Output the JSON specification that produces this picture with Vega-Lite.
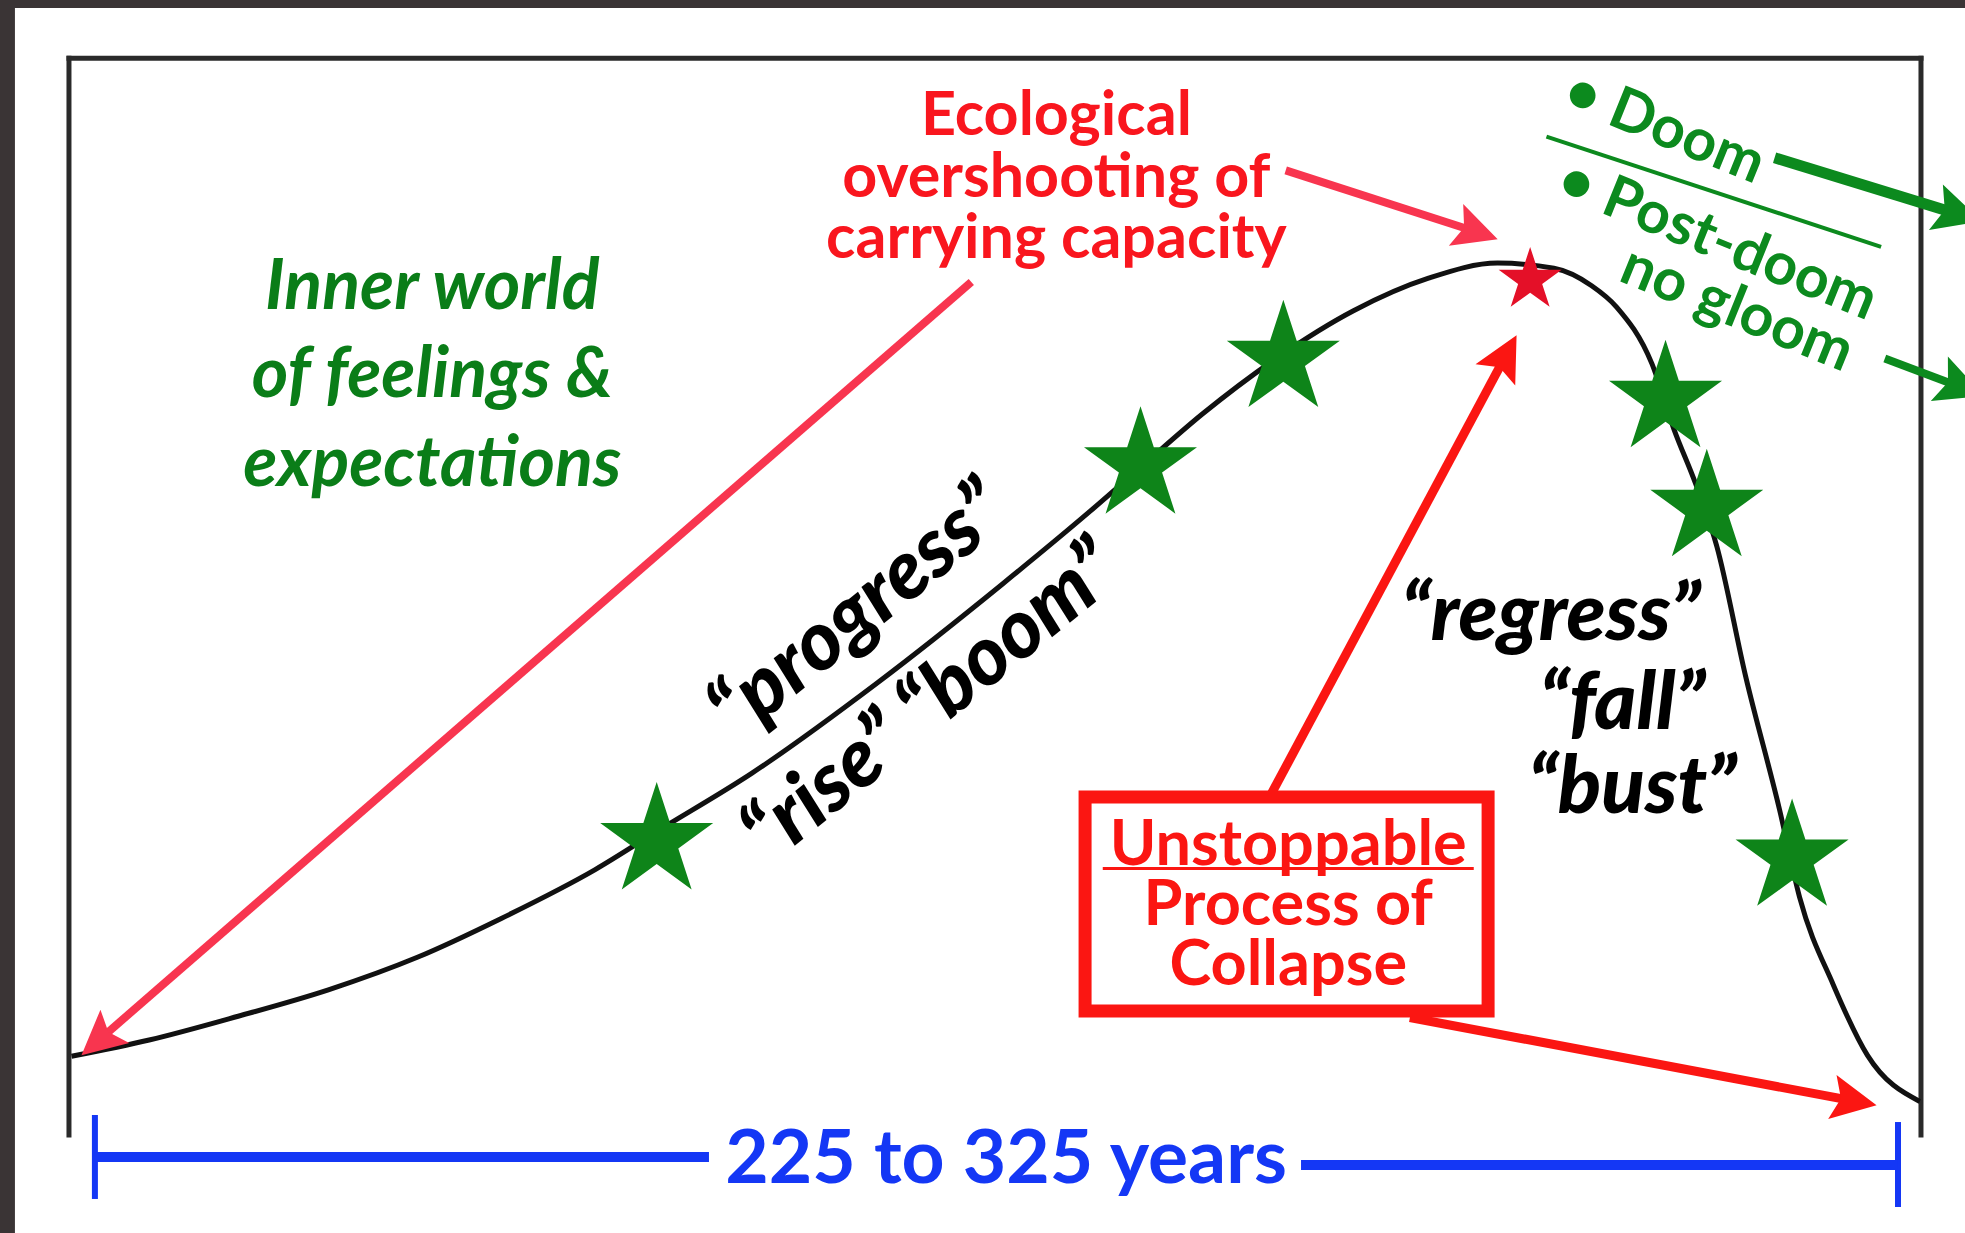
{
  "$schema": "https://vega.github.io/schema/vega-lite/v6.json",
  "width": 1965,
  "height": 1233,
  "autosize": {"type": "none"},
  "padding": 0,
  "background": "#3a3435",
  "config": {"view": {"stroke": null}, "axis": {"disable": true}, "font": "Lato"},
  "datasets": {
    "paper": [{"x": 0.76, "y": 0, "x2": 100, "y2": 99.35}],
    "strokes": [
      {"g": "frame", "x": 3.51, "y": 95.27, "x2": 3.51, "y2": 7.95},
      {"g": "frame", "x": 3.51, "y": 95.27, "x2": 97.76, "y2": 95.27},
      {"g": "frame", "x": 97.76, "y": 95.27, "x2": 97.76, "y2": 7.95},
      {"g": "blueTick", "x": 4.83, "y": 9.57, "x2": 4.83, "y2": 2.76},
      {"g": "blueTick", "x": 96.59, "y": 9.0, "x2": 96.59, "y2": 2.11},
      {"g": "blueBar", "x": 4.83, "y": 6.16, "x2": 36.08, "y2": 6.16},
      {"g": "blueBar", "x": 66.21, "y": 5.52, "x2": 96.59, "y2": 5.52},
      {"g": "divider", "x": 78.7, "y": 88.92, "x2": 95.73, "y2": 79.98},
      {"g": "underline", "x": 56.12, "y": 29.57, "x2": 75.0, "y2": 29.57}
    ],
    "curve": [
      {"x": 3.64, "y": 14.33}, {"x": 7.59, "y": 15.65}, {"x": 12.12, "y": 17.58},
      {"x": 16.71, "y": 19.72}, {"x": 21.24, "y": 22.36}, {"x": 25.51, "y": 25.51},
      {"x": 30.29, "y": 29.47}, {"x": 33.48, "y": 32.62}, {"x": 38.27, "y": 37.3},
      {"x": 44.64, "y": 44.61}, {"x": 51.02, "y": 52.64}, {"x": 55.48, "y": 58.54},
      {"x": 58.04, "y": 62.09}, {"x": 61.22, "y": 66.46}, {"x": 65.05, "y": 71.04},
      {"x": 68.88, "y": 74.8}, {"x": 72.7, "y": 77.44}, {"x": 76.21, "y": 78.66},
      {"x": 79.08, "y": 78.25}, {"x": 81.0, "y": 76.83}, {"x": 82.27, "y": 75.1},
      {"x": 84.06, "y": 70.53}, {"x": 85.2, "y": 65.14}, {"x": 86.29, "y": 60.77},
      {"x": 87.37, "y": 55.69}, {"x": 88.84, "y": 45.12}, {"x": 90.56, "y": 34.35},
      {"x": 91.58, "y": 27.24}, {"x": 93.3, "y": 20.12}, {"x": 95.03, "y": 14.43},
      {"x": 97.7, "y": 10.67}
    ],
    "greenStars": [
      {"x": 33.42, "y": 31.76}, {"x": 58.04, "y": 62.24}, {"x": 65.31, "y": 70.88},
      {"x": 84.76, "y": 67.63}, {"x": 86.86, "y": 58.79}, {"x": 91.2, "y": 30.43}
    ],
    "redStar": [{"x": 77.87, "y": 77.29}],
    "arrows": [
      {"id": "A1", "c": "pink", "x": 49.43, "y": 77.13, "x2": 5.09, "y2": 15.72, "dir": 229.2},
      {"id": "A2", "c": "pink", "x": 65.43, "y": 86.18, "x2": 75.04, "y2": 81.25, "dir": 109},
      {"id": "A3", "c": "red", "x": 64.48, "y": 34.96, "x2": 76.58, "y2": 71.02, "dir": 28.1},
      {"id": "A4", "c": "red", "x": 71.75, "y": 17.48, "x2": 94.25, "y2": 10.73, "dir": 100.7},
      {"id": "G1", "c": "green", "x": 90.31, "y": 87.2, "x2": 99.55, "y2": 82.69, "dir": 107},
      {"id": "G2", "c": "green", "x": 95.92, "y": 70.93, "x2": 99.7, "y2": 68.66, "dir": 111}
    ],
    "box": [{"x": 55.22, "y": 35.36, "x2": 75.73, "y2": 18.0}],
    "labels": [
      {"g": "inner", "label": "Inner world", "x": 22.0, "y": 74.9},
      {"g": "inner", "label": "of feelings &", "x": 22.0, "y": 67.78},
      {"g": "inner", "label": "expectations", "x": 22.0, "y": 60.57},
      {"g": "eco", "label": "Ecological", "x": 53.76, "y": 89.02},
      {"g": "eco", "label": "overshooting of", "x": 53.76, "y": 84.04},
      {"g": "eco", "label": "carrying capacity", "x": 53.76, "y": 79.07},
      {"g": "doom", "label": "• Doom", "x": 84.7, "y": 89.63},
      {"g": "doom", "label": "• Post-doom", "x": 87.4, "y": 80.49},
      {"g": "doom", "label": "no gloom", "x": 88.4, "y": 74.9},
      {"g": "diag", "label": "“progress”", "x": 43.7, "y": 50.4},
      {"g": "diag", "label": "“rise” “boom”", "x": 47.4, "y": 43.0},
      {"g": "fall", "label": "“regress”", "x": 78.92, "y": 48.07},
      {"g": "fall", "label": "“fall”", "x": 82.56, "y": 40.85},
      {"g": "fall", "label": "“bust”", "x": 83.07, "y": 34.04},
      {"g": "box", "label": "Unstoppable", "x": 65.56, "y": 29.88},
      {"g": "box", "label": "Process of", "x": 65.56, "y": 25.0},
      {"g": "box", "label": "Collapse", "x": 65.56, "y": 20.12},
      {"g": "years", "label": "225 to 325 years", "x": 51.2, "y": 4.06}
    ]
  },
  "encoding": {
    "x": {"field": "x", "type": "quantitative", "scale": {"domain": [0, 100], "nice": false, "zero": false}, "axis": null},
    "y": {"field": "y", "type": "quantitative", "scale": {"domain": [0, 100], "nice": false, "zero": false}, "axis": null}
  },
  "layer": [
    {
      "data": {"name": "paper"},
      "mark": {"type": "rect", "fill": "#ffffff"},
      "encoding": {"x2": {"field": "x2"}, "y2": {"field": "y2"}}
    },
    {
      "data": {"name": "strokes"},
      "transform": [{"filter": "datum.g === 'frame'"}],
      "mark": {"type": "rule", "strokeCap": "square", "color": "#2a2a2a", "strokeWidth": 5},
      "encoding": {"x2": {"field": "x2"}, "y2": {"field": "y2"}}
    },
    {
      "data": {"name": "strokes"},
      "transform": [{"filter": "datum.g === 'blueTick'"}],
      "mark": {"type": "rule", "strokeCap": "butt", "color": "#1437f5", "strokeWidth": 6},
      "encoding": {"x2": {"field": "x2"}, "y2": {"field": "y2"}}
    },
    {
      "data": {"name": "strokes"},
      "transform": [{"filter": "datum.g === 'blueBar'"}],
      "mark": {"type": "rule", "strokeCap": "butt", "color": "#1437f5", "strokeWidth": 10},
      "encoding": {"x2": {"field": "x2"}, "y2": {"field": "y2"}}
    },
    {
      "data": {"name": "strokes"},
      "transform": [{"filter": "datum.g === 'divider'"}],
      "mark": {"type": "rule", "strokeCap": "butt", "color": "#0c8a1e", "strokeWidth": 4},
      "encoding": {"x2": {"field": "x2"}, "y2": {"field": "y2"}}
    },
    {
      "data": {"name": "curve"},
      "mark": {"type": "line", "interpolate": "monotone", "color": "#111111", "strokeWidth": 5},
      "encoding": {}
    },
    {
      "data": {"name": "arrows"},
      "transform": [{"filter": "datum.c === 'pink'"}],
      "mark": {"type": "rule", "strokeCap": "butt", "color": "#f8354f", "strokeWidth": 8},
      "encoding": {"x2": {"field": "x2"}, "y2": {"field": "y2"}}
    },
    {
      "data": {"name": "arrows"},
      "transform": [{"filter": "datum.c === 'red'"}],
      "mark": {"type": "rule", "strokeCap": "butt", "color": "#fb1612", "strokeWidth": 9},
      "encoding": {"x2": {"field": "x2"}, "y2": {"field": "y2"}}
    },
    {
      "data": {"name": "arrows"},
      "transform": [{"filter": "datum.id === 'G1'"}],
      "mark": {"type": "rule", "strokeCap": "butt", "color": "#0c8a1e", "strokeWidth": 11},
      "encoding": {"x2": {"field": "x2"}, "y2": {"field": "y2"}}
    },
    {
      "data": {"name": "arrows"},
      "transform": [{"filter": "datum.id === 'G2'"}],
      "mark": {"type": "rule", "strokeCap": "butt", "color": "#0c8a1e", "strokeWidth": 8},
      "encoding": {"x2": {"field": "x2"}, "y2": {"field": "y2"}}
    },
    {
      "data": {"name": "box"},
      "mark": {"type": "rect", "fill": "#ffffff", "stroke": "#fb1612", "strokeWidth": 13},
      "encoding": {"x2": {"field": "x2"}, "y2": {"field": "y2"}}
    },
    {
      "data": {"name": "strokes"},
      "transform": [{"filter": "datum.g === 'underline'"}],
      "mark": {"type": "rule", "strokeCap": "butt", "color": "#fb1612", "strokeWidth": 3},
      "encoding": {"x2": {"field": "x2"}, "y2": {"field": "y2"}}
    },
    {
      "data": {"name": "arrows"},
      "transform": [{"filter": "datum.c === 'pink'"}],
      "mark": {"type": "point", "shape": "M0,-1L0.9,0.8L0,0.45L-0.9,0.8Z", "size": 2400, "filled": true, "opacity": 1, "strokeWidth": 0, "color": "#f8354f"},
      "encoding": {
        "x": {"field": "x2", "type": "quantitative"},
        "y": {"field": "y2", "type": "quantitative"},
        "angle": {"field": "dir", "type": "quantitative", "scale": null}
      }
    },
    {
      "data": {"name": "arrows"},
      "transform": [{"filter": "datum.c === 'red'"}],
      "mark": {"type": "point", "shape": "M0,-1L0.9,0.8L0,0.45L-0.9,0.8Z", "size": 2500, "filled": true, "opacity": 1, "strokeWidth": 0, "color": "#fb1612"},
      "encoding": {
        "x": {"field": "x2", "type": "quantitative"},
        "y": {"field": "y2", "type": "quantitative"},
        "angle": {"field": "dir", "type": "quantitative", "scale": null}
      }
    },
    {
      "data": {"name": "arrows"},
      "transform": [{"filter": "datum.c === 'green'"}],
      "mark": {"type": "point", "shape": "M0,-1L0.9,0.8L0,0.45L-0.9,0.8Z", "size": 2800, "filled": true, "opacity": 1, "strokeWidth": 0, "color": "#0c8a1e"},
      "encoding": {
        "x": {"field": "x2", "type": "quantitative"},
        "y": {"field": "y2", "type": "quantitative"},
        "angle": {"field": "dir", "type": "quantitative", "scale": null}
      }
    },
    {
      "data": {"name": "greenStars"},
      "mark": {"type": "point", "shape": "M0,-1L0.2245,-0.309L0.951,-0.309L0.3633,0.118L0.588,0.809L0,0.382L-0.588,0.809L-0.3633,0.118L-0.951,-0.309L-0.2245,-0.309Z", "size": 14120, "filled": true, "opacity": 1, "color": "#0e8419", "strokeWidth": 0}
    },
    {
      "data": {"name": "redStar"},
      "mark": {"type": "point", "shape": "M0,-1L0.2245,-0.309L0.951,-0.309L0.3633,0.118L0.588,0.809L0,0.382L-0.588,0.809L-0.3633,0.118L-0.951,-0.309L-0.2245,-0.309Z", "size": 4385, "filled": true, "opacity": 1, "color": "#e41028", "strokeWidth": 0}
    },
    {
      "data": {"name": "labels"},
      "transform": [{"filter": "datum.g === 'inner'"}],
      "mark": {"type": "text", "font": "Lato", "fontSize": 70, "fontStyle": "italic", "fontWeight": "bold", "color": "#0a7d18", "align": "center", "baseline": "alphabetic"},
      "encoding": {"text": {"field": "label"}}
    },
    {
      "data": {"name": "labels"},
      "transform": [{"filter": "datum.g === 'eco'"}],
      "mark": {"type": "text", "font": "Lato", "fontSize": 61, "fontWeight": "bold", "color": "#f9161e", "align": "center", "baseline": "alphabetic"},
      "encoding": {"text": {"field": "label"}}
    },
    {
      "data": {"name": "labels"},
      "transform": [{"filter": "datum.g === 'doom'"}],
      "mark": {"type": "text", "font": "Lato", "fontSize": 59, "fontWeight": "bold", "color": "#0c8a1e", "align": "center", "baseline": "middle", "angle": 22},
      "encoding": {"text": {"field": "label"}}
    },
    {
      "data": {"name": "labels"},
      "transform": [{"filter": "datum.g === 'diag'"}],
      "mark": {"type": "text", "font": "Lato", "fontSize": 82, "fontWeight": 900, "fontStyle": "italic", "color": "#000000", "align": "center", "baseline": "middle", "angle": -39},
      "encoding": {"text": {"field": "label"}}
    },
    {
      "data": {"name": "labels"},
      "transform": [{"filter": "datum.g === 'fall'"}],
      "mark": {"type": "text", "font": "Lato", "fontSize": 80, "fontWeight": 900, "fontStyle": "italic", "color": "#000000", "align": "center", "baseline": "alphabetic"},
      "encoding": {"text": {"field": "label"}}
    },
    {
      "data": {"name": "labels"},
      "transform": [{"filter": "datum.g === 'box'"}],
      "mark": {"type": "text", "font": "Lato", "fontSize": 63, "fontWeight": "bold", "color": "#fb1612", "align": "center", "baseline": "alphabetic"},
      "encoding": {"text": {"field": "label"}}
    },
    {
      "data": {"name": "labels"},
      "transform": [{"filter": "datum.g === 'years'"}],
      "mark": {"type": "text", "font": "Lato", "fontSize": 75, "fontWeight": "bold", "color": "#1437f5", "align": "center", "baseline": "alphabetic"},
      "encoding": {"text": {"field": "label"}}
    }
  ]
}
